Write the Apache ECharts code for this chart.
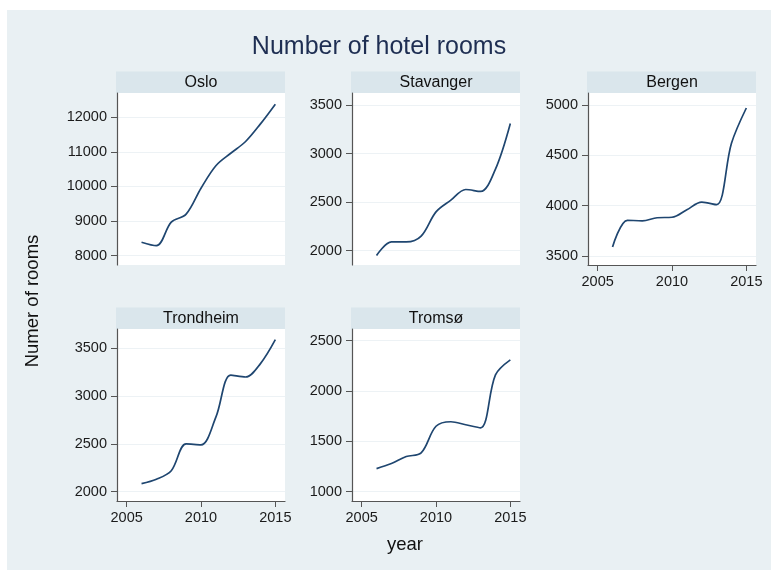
<!DOCTYPE html>
<html><head><meta charset="utf-8">
<script src="https://cdn.jsdelivr.net/npm/echarts@6/dist/echarts.min.js"></script>
<style>html,body{margin:0;padding:0;background:#fff}#c{width:771px;height:570px}</style>
</head><body><div id="c"></div><script>
// ---- data ----
const years = [2006, 2007, 2008, 2009, 2010, 2011, 2012, 2013, 2014, 2015];
const cities = ['Oslo', 'Stavanger', 'Bergen', 'Trondheim', 'Tromsø'];
const osloRooms      = [8390, 8290, 8970, 9200, 9950, 10600, 10960, 11300, 11810, 12380];
const stavangerRooms = [1950, 2090, 2090, 2150, 2400, 2520, 2630, 2610, 2840, 3310];
const bergenRooms    = [3590, 3855, 3850, 3880, 3885, 3960, 4035, 4010, 4620, 4970];
const trondheimRooms = [2085, 2130, 2220, 2500, 2490, 2780, 3220, 3200, 3340, 3590];
const tromsoRooms    = [1230, 1280, 1350, 1385, 1650, 1695, 1665, 1635, 2160, 2310];
const osloTicks      = [8000, 9000, 10000, 11000, 12000];
const stavangerTicks = [2000, 2500, 3000, 3500];
const bergenTicks    = [3500, 4000, 4500, 5000];
const trondheimTicks = [2000, 2500, 3000, 3500];
const tromsoTicks    = [1000, 1500, 2000, 2500];
const yearTicks      = [2005, 2010, 2015];
const titleText = 'Number of hotel rooms';
const yTitle = 'Numer of rooms';
const xTitle = 'year';

const seriesValues = [osloRooms, stavangerRooms, bergenRooms, trondheimRooms, tromsoRooms];
const seriesTicks = [osloTicks, stavangerTicks, bergenTicks, trondheimTicks, tromsoTicks];

// ---- layout ----
const W = 168, H = 172;
const layout = [
  {left: 117, top: 93,  yr: [7731, 12702], showX: false},
  {left: 352, top: 93,  yr: [1853, 3623],  showX: false},
  {left: 588, top: 93,  yr: [3411, 5119],  showX: true},
  {left: 117, top: 329, yr: [1903, 3702],  showX: true},
  {left: 352, top: 329, yr: [908, 2616],   showX: true}
];
const xRange = [2004.35, 2015.65];
const FONT = '"Liberation Sans", Arial, Helvetica, sans-serif';
const axisColor = '#555';
const lineColor = '#1f4670';

const grids = [], xAxes = [], yAxes = [], series = [], graphics = [];
graphics.push({type: 'rect', z: -10, shape: {x: 7, y: 10, width: 764, height: 560}, style: {fill: '#e9f0f3'}});
graphics.push({type: 'text', x: 379, y: 47, style: {text: titleText, font: '25px ' + FONT, fill: '#1e2e52', textAlign: 'center', textVerticalAlign: 'middle'}});
graphics.push({type: 'text', x: 33, y: 301, rotation: Math.PI / 2, style: {text: yTitle, font: '18.5px ' + FONT, fill: '#111', textAlign: 'center', textVerticalAlign: 'middle'}});
graphics.push({type: 'text', x: 405, y: 545, style: {text: xTitle, font: '18.5px ' + FONT, fill: '#111', textAlign: 'center', textVerticalAlign: 'middle'}});

layout.forEach((p, i) => {
  grids.push({left: p.left, top: p.top, width: W, height: H, show: true, backgroundColor: '#ffffff', borderWidth: 0});
  graphics.push({type: 'rect', shape: {x: p.left - 1, y: p.top - 21.5, width: W + 1, height: 21.5}, style: {fill: '#dae6ec'}});
  graphics.push({type: 'text', x: p.left + W / 2, y: p.top - 10.5, style: {text: cities[i], font: '16px ' + FONT, fill: '#111', textAlign: 'center', textVerticalAlign: 'middle'}});
  xAxes.push({
    type: 'value', gridIndex: i, min: xRange[0], max: xRange[1],
    axisLine: {show: p.showX, onZero: false, lineStyle: {color: axisColor, width: 1.2}},
    axisTick: {show: p.showX, customValues: yearTicks, length: 6, lineStyle: {color: axisColor}},
    axisLabel: {show: p.showX, customValues: yearTicks, formatter: v => String(v), fontSize: 14.5, fontFamily: FONT, color: '#1b1b1b', margin: 9},
    splitLine: {show: false}
  });
  yAxes.push({
    type: 'value', gridIndex: i, min: p.yr[0], max: p.yr[1],
    axisLine: {show: true, onZero: false, lineStyle: {color: axisColor, width: 1.2}},
    axisTick: {show: true, customValues: seriesTicks[i], length: 6, lineStyle: {color: axisColor}},
    axisLabel: {show: true, customValues: seriesTicks[i], formatter: v => String(v), fontSize: 14.5, fontFamily: FONT, color: '#1b1b1b', margin: 10},
    splitLine: {show: true, lineStyle: {color: '#edf2f5', width: 1.2}}
  });
  series.push({
    type: 'line', xAxisIndex: i, yAxisIndex: i, smooth: 0.34, showSymbol: false, silent: true,
    lineStyle: {color: lineColor, width: 1.7},
    data: years.map((y, k) => [y, seriesValues[i][k]])
  });
});

const chart = echarts.init(document.getElementById('c'), null, {renderer: 'canvas'});
chart.setOption({
  backgroundColor: '#ffffff',
  animation: false,
  grid: grids, xAxis: xAxes, yAxis: yAxes, series: series,
  graphic: graphics
});
</script></body></html>
